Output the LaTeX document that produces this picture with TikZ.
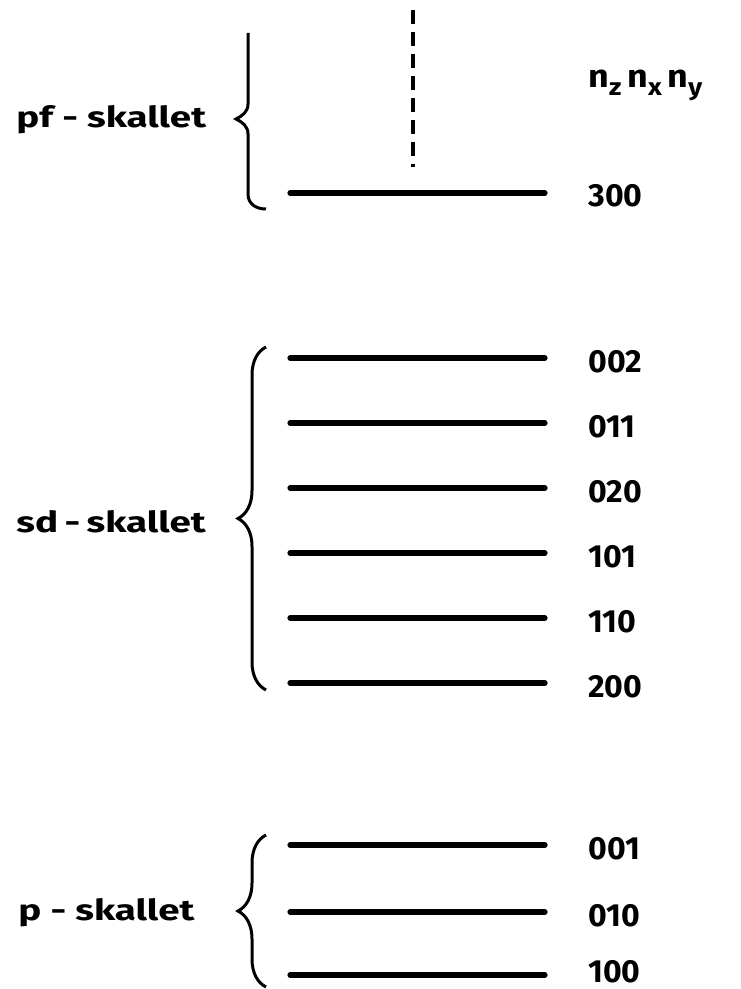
\documentclass[tikz,border=0pt]{standalone}
\usepackage{fontspec}
\setmainfont{Fira Sans}
\usetikzlibrary{decorations.pathreplacing, positioning}

\newcommand{\wide}[2][1.33]{\scalebox{#1}[1]{#2}}
\newcommand{\sub}[1]{\raisebox{-0.45ex}{\fontsize{12}{13}\selectfont #1}}

\begin{document}
\begin{tikzpicture}[
    x=0.5pt, y=-0.5pt,
    level/.style={line width=2.6pt, line cap=round},
    skal/.style={font=\fontsize{14.5}{17}\selectfont\bfseries, anchor=base west, inner sep=0pt},
    num/.style={font=\fontsize{16}{18}\selectfont\bfseries, anchor=base west, inner sep=0pt},
    skalbrace/.style={decorate, decoration={brace, amplitude=14pt}, line width=1.5pt},
    spin/.style={line width=1.6pt, dash pattern=on 7pt off 4pt}
]
\useasboundingbox (0,0) rectangle (740,989);

% pf-shell
\node[num] (header) at (588,88) {\wide[1.12]{n\sub{z}\,n\sub{x}\,n\sub{y}}};
\coordinate (pfL) at (290,193);
\coordinate (pfR) at (545,193);
\draw[level] (pfL) -- (pfR);
\node[num] (n300) at (588,207) {300};
\coordinate (spintop) at (413,10);
\coordinate (spinbot) at (413,167);
\draw[spin] (spintop) -- (spinbot);
\draw[line width=1.5pt] (248,33) -- (248,104) .. controls (248,112) and (242,116) .. (236,119)
    .. controls (242,122) and (248,126) .. (248,134) -- (248,194)
    .. controls (248,204) and (256,209) .. (266,209);
\node[skal] (pf) at (16,128) {\wide{pf - skallet}};

% sd-shell
\foreach \lab/\y in {002/358, 011/423, 020/488, 101/553, 110/618, 200/683} {
    \coordinate (sdL\lab) at (290,\y);
    \coordinate (sdR\lab) at (545,\y);
    \draw[level] (sdL\lab) -- (sdR\lab);
    \node[num] (n\lab) at (588,\y+14) {\lab};
}
\coordinate (sdtop) at (266,347);
\coordinate (sdbot) at (266,690);
\draw[skalbrace] (sdbot) -- (sdtop);
\node[skal] (sd) at (16,532) {\wide{sd\,-\,skallet}};

% p-shell
\foreach \lab/\y in {001/845, 010/912} {
    \coordinate (pL\lab) at (290,\y);
    \coordinate (pR\lab) at (545,\y);
    \draw[level] (pL\lab) -- (pR\lab);
    \node[num] (n\lab) at (588,\y+14) {\lab};
}
\coordinate (pL100) at (290,975);
\coordinate (pR100) at (545,975);
\draw[level] (pL100) -- (pR100);
\node[num] (n100) at (588,982) {100};
\coordinate (ptop) at (266,835);
\coordinate (pbot) at (266,987);
\draw[skalbrace] (pbot) -- (ptop);
\node[skal] (p) at (18,920) {\wide{p - skallet}};

\end{tikzpicture}
\end{document}
